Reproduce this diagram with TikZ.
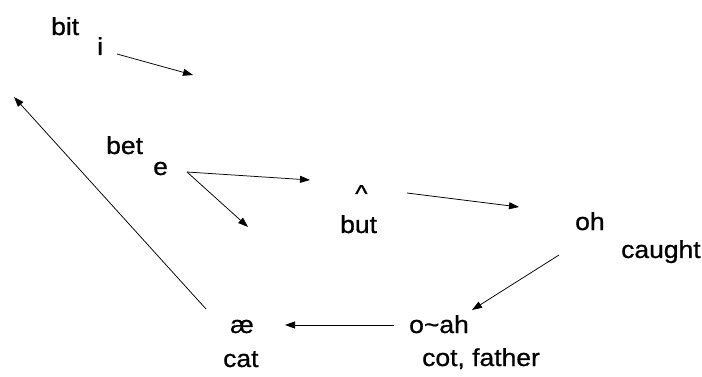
\documentclass[tikz,border=0pt]{standalone}
\usepackage{fontspec}
\setmainfont[FakeStretch=1.08,FakeBold=0.8]{Liberation Sans}
\usetikzlibrary{arrows.meta}
\begin{document}
\begin{tikzpicture}[x=1pt,y=-1pt,
  word/.style={anchor=base west,inner sep=0pt,font=\fontsize{24.5}{28}\selectfont},
  link/.style={line width=0.75pt,-{Triangle[length=10pt,width=7pt]}}]
\useasboundingbox (0,0) rectangle (702,377);

% vowel symbols and their key words
\node[word] (bit)    at (51,35)   {bit};
\node[word] (i)      at (97,55)   {i};
\node[word] (bet)    at (106,154) {bet};
\node[word] (e)      at (153,175) {e};
\node[word] (caret)  at (355,202) {\textasciicircum};
\node[word] (but)    at (340,233) {but};
\node[word] (oh)     at (575,230) {oh};
\node[word] (caught) at (621,258) {caught};
\node[word] (oah)    at (409,333) {o\textasciitilde ah};
\node[word] (cot)    at (422,366) {cot, father};
\node[word] (ae)     at (230,333) {æ};
\node[word] (cat)    at (223,367) {cat};

% arrow end points
\coordinate (iS)   at (117,54);
\coordinate (iE)   at (193,75);
\coordinate (eS)   at (187,172);
\coordinate (eE1)  at (310,180);
\coordinate (eE2)  at (248,227);
\coordinate (cS)   at (407,193);
\coordinate (cE)   at (519,207);
\coordinate (ohS)  at (559,255);
\coordinate (ohE)  at (472,310);
\coordinate (oaS)  at (394,325);
\coordinate (oaE)  at (285,325);
\coordinate (aeS)  at (206,309);
\coordinate (aeE)  at (14,97);

\draw[link] (iS) -- (iE);
\draw[link] (eS) -- (eE1);
\draw[link] (eS) -- (eE2);
\draw[link] (cS) -- (cE);
\draw[link] (ohS) -- (ohE);
\draw[link] (oaS) -- (oaE);
\draw[link] (aeS) -- (aeE);
\end{tikzpicture}
\end{document}
